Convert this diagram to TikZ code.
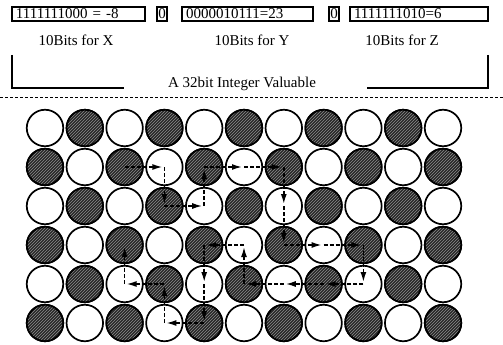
\documentclass[tikz,border=0pt]{standalone}
\usepackage{fontspec}
\setmainfont{Liberation Serif}
\usetikzlibrary{arrows.meta}
\usetikzlibrary{patterns}
\usetikzlibrary{positioning}

\begin{document}
\begin{tikzpicture}[
  x=1pt, y=-1pt,
  bitbox/.style={draw, line width=1.1pt, minimum height=14pt, inner ysep=0pt,
    inner xsep=4pt, text height=10pt, text depth=1pt, align=left,
    font=\fontsize{15}{16}\selectfont},
  zerobox/.style={draw, line width=1.1pt, minimum height=14pt, minimum width=10pt,
    inner sep=0pt, text height=10pt, text depth=1pt, font=\fontsize{15}{16}\selectfont},
  lbl/.style={font=\fontsize{15}{16}\selectfont, inner sep=0pt},
  brk/.style={line width=1.3pt},
  ball0/.style={circle, draw, line width=1.7pt, minimum size=36.5pt, inner sep=0pt, fill=white},
  ball1/.style={ball0, fill=black!85,
    postaction={pattern=north east lines, pattern color=black!45},
    postaction={draw, line width=1.7pt}},
  hop/.style={-{Latex[length=10pt,width=6pt]}, line width=1.5pt,
    dash pattern=on 4pt off 2pt, shorten >=2pt}
]
\useasboundingbox (0,0) rectangle (503,345);

%% Bit fields
\node[bitbox, text width=125pt] (bx) at (78.5,14) {1111111000 = -8};
\node[zerobox] (z1) at (162,14) {0};
\node[bitbox, text width=123pt] (by) at (247.5,14) {0000010111=23};
\node[zerobox] (z2) at (334,14) {0};
\node[bitbox, text width=130pt] (bz) at (419,14) {1111111010=6};

\node[lbl] (lx) at (76,40) {10Bits for X};
\node[lbl] (ly) at (252,40) {10Bits for Y};
\node[lbl] (lz) at (402,40) {10Bits for Z};

%% Bracket of the whole integer
\node[lbl] (total) at (242,84) {A 32bit Integer Valuable};
\coordinate (bl1) at (12,55);
\coordinate (bl2) at (12,88);
\coordinate (bl3) at (124,88);
\coordinate (br1) at (488,55);
\coordinate (br2) at (488,88);
\coordinate (br3) at (367,88);
\draw[brk] (bl1) -- (bl2) -- (bl3);
\draw[brk] (br1) -- (br2) -- (br3);

%% Separator
\coordinate (sepl) at (0,97);
\coordinate (sepr) at (503,97);
\draw[line width=0.9pt, dash pattern=on 3pt off 2pt] (sepl) -- (sepr);

%% Grid of balls
\foreach \r in {0,...,5}
  \foreach \c in {0,...,10} {
    \pgfmathtruncatemacro\k{mod(\r+\c,2)}
    \node[ball\k] (p\r-\c) at ({45+39.8*\c},{128+39*\r}) {};
  }

%% Walk, first part
\draw[hop] (p1-2.center) -- (p1-3.center);
\draw[hop] (p1-3.center) -- (p2-3.center);
\draw[hop] (p2-3.center) -- (p2-4.center);
\draw[hop] (p2-4.center) -- (p1-4.center);
\draw[hop] (p1-4.center) -- (p1-5.center);
\draw[hop] (p1-5.center) -- (p1-6.center);
\draw[hop] (p1-6.center) -- (p2-6.center);
\draw[hop] (p2-6.center) -- (p3-6.center);
\draw[hop] (p3-6.center) -- (p3-7.center);
\draw[hop] (p3-7.center) -- (p3-8.center);
\draw[hop] (p3-8.center) -- (p4-8.center);

%% Walk, back to the left
\draw[hop] (p4-8.center) -- (p4-7.center);
\draw[hop] (p4-7.center) -- (p4-6.center);
\draw[hop] (p4-6.center) -- (p4-5.center);
\draw[hop] (p4-5.center) -- (p3-5.center);
\draw[hop] (p3-5.center) -- (p3-4.center);
\draw[hop] (p3-4.center) -- (p4-4.center);
\draw[hop] (p4-4.center) -- (p5-4.center);
\draw[hop] (p5-4.center) -- (p5-3.center);
\draw[hop] (p5-3.center) -- (p4-3.center);
\draw[hop] (p4-3.center) -- (p4-2.center);
\draw[hop] (p4-2.center) -- (p3-2.center);

\end{tikzpicture}
\end{document}
